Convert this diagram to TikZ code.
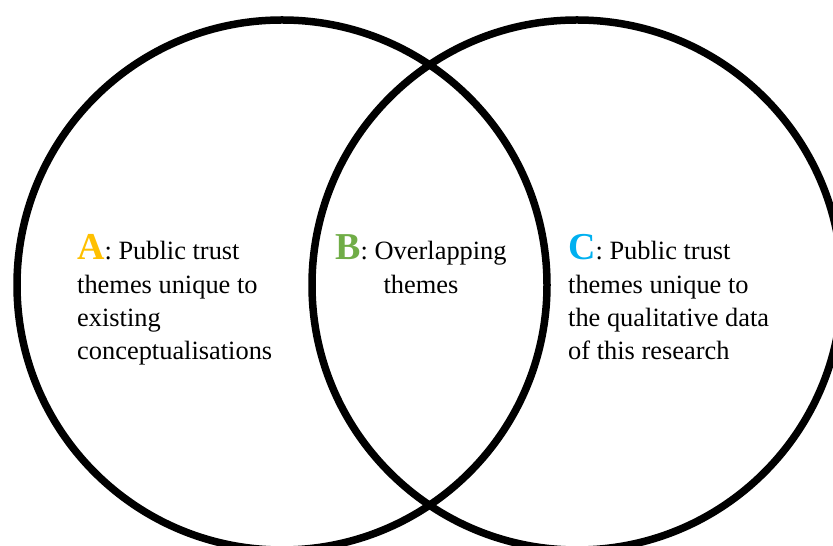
\documentclass[tikz,border=0pt]{standalone}
\usepackage{fontspec}
\setmainfont{Liberation Serif}
\usetikzlibrary{positioning}

\definecolor{ayellow}{HTML}{FFC000}
\definecolor{bgreen}{HTML}{70AD47}
\definecolor{cblue}{HTML}{00B0F0}

\newcommand{\bigletter}[2]{{\fontsize{38}{33}\selectfont\bfseries\color{#1}#2}}

\begin{document}
\begin{tikzpicture}[x=1pt,y=1pt]
    \clip (0,0) rectangle (833,546);

    \begin{scope}[every node/.style={circle,draw=black,line width=7.5pt,minimum size=530pt,inner sep=0pt}]
        \node (L) at (282,261) {};
        \node (R) at (577,261) {};
    \end{scope}

    % base anchor sits on the last line of each label
    \begin{scope}[every node/.style={inner sep=0pt,anchor=base west,
                  font=\fontsize{26.4}{33.3}\selectfont}]
        \node[align=left] (A) at (77,186.1)
            {\bigletter{ayellow}{A}: Public trust\\themes unique to\\existing\\conceptualisations};
        \node[align=center,anchor=base] (B) at (421,252.7)
            {\bigletter{bgreen}{B}: Overlapping\\themes};
        \node[align=left] (C) at (568,186.1)
            {\bigletter{cblue}{C}: Public trust\\themes unique to\\the qualitative data\\of this research};
    \end{scope}
\end{tikzpicture}
\end{document}
